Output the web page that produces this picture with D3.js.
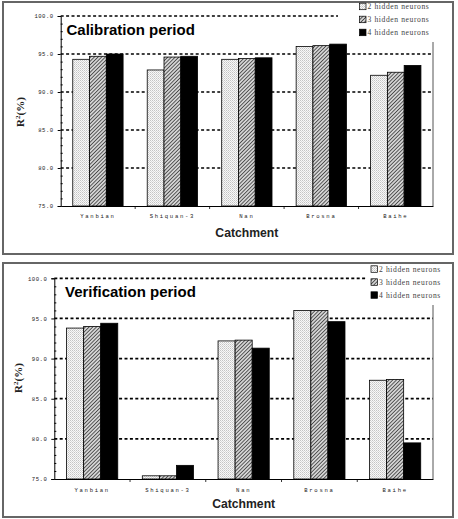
<!DOCTYPE html>
<html><head><meta charset="utf-8">
<script src="https://cdn.jsdelivr.net/npm/d3@7"></script>
<style>body{margin:0;background:#fff}svg{display:block}</style>
</head><body>
<svg id="c" width="458" height="519"></svg>
<script>
const categories = ["Yanbian", "Shiquan-3", "Nan", "Brosna", "Baihe"];
const seriesNames = ["2 hidden neurons", "3 hidden neurons", "4 hidden neurons"];
const calibration2 = [94.3, 92.9, 94.3, 96.0, 92.2];
const calibration3 = [94.7, 94.6, 94.4, 96.1, 92.6];
const calibration4 = [95.0, 94.7, 94.5, 96.3, 93.5];
const verification2 = [93.8, 75.4, 92.2, 96.0, 87.3];
const verification3 = [94.0, 75.4, 92.3, 96.0, 87.4];
const verification4 = [94.4, 76.7, 91.3, 94.6, 79.5];
const yTicks = [75, 80, 85, 90, 95, 100];
const yTickLabels = ["75.0", "80.0", "85.0", "90.0", "95.0", "100.0"];

const svg = d3.select("#c");
const defs = svg.append("defs");
const p1 = defs.append("pattern").attr("id","dots").attr("patternUnits","userSpaceOnUse").attr("width",2).attr("height",2);
p1.append("rect").attr("width",2).attr("height",2).attr("fill","#f8f8f8");
p1.append("rect").attr("width",1).attr("height",1).attr("fill","#c4c4c4");
p1.append("rect").attr("x",1).attr("y",1).attr("width",1).attr("height",1).attr("fill","#d8d8d8");
const p2 = defs.append("pattern").attr("id","hatch").attr("patternUnits","userSpaceOnUse").attr("width",2.6).attr("height",2.6).attr("patternTransform","rotate(45)");
p2.append("rect").attr("width",2.6).attr("height",2.6).attr("fill","#d4d4d4");
p2.append("line").attr("x1",0).attr("y1",0).attr("x2",0).attr("y2",2.6).attr("stroke","#333").attr("stroke-width",1.5);
const fills = ["url(#dots)", "url(#hatch)", "#000"];

function drawPanel(o) {
  const g = svg.append("g");
  g.append("rect").attr("x",o.frame[0]).attr("y",o.frame[1]).attr("width",o.frame[2]).attr("height",o.frame[3])
    .attr("fill","#fff").attr("stroke","#666").attr("stroke-width",2);
  const x = d3.scaleBand().domain(categories).range([o.left, o.right]).padding(0);
  const pad = x.bandwidth()*0.162;
  const xs = d3.scaleBand().domain(d3.range(3)).range([pad, x.bandwidth()-pad]).padding(0);
  const y = d3.scaleLinear().domain([75,100]).range([o.bottom, o.top]);
  // gridlines
  g.selectAll(".grid").data(yTicks.filter(v=>v>75)).join("line")
    .attr("x1",o.left).attr("x2",o.right).attr("y1",d=>y(d)).attr("y2",d=>y(d))
    .attr("stroke","#000").attr("stroke-width",1.7).attr("stroke-dasharray","3,2.4");
  // right axis line
  g.append("line").attr("x1",o.right).attr("x2",o.right).attr("y1",o.top).attr("y2",o.bottom).attr("stroke","#555").attr("stroke-width",1);
  // bars
  const vals = o.values;
  categories.forEach((c,i)=>{
    vals.forEach((arr,s)=>{
      g.append("rect").attr("x",x(c)+xs(s)).attr("width",xs.bandwidth())
        .attr("y",y(arr[i])).attr("height",y(75)-y(arr[i]))
        .attr("fill",fills[s]).attr("stroke","#000").attr("stroke-width",0.8);
    });
  });
  // left axis
  const yAxis = d3.axisLeft(y).tickValues(yTicks).tickSize(3).tickFormat((d,i)=>yTickLabels[i]);
  const ya = g.append("g").attr("transform",`translate(${o.left},0)`).call(yAxis);
  ya.select(".domain").attr("stroke","#000");
  ya.selectAll("text").attr("font-family","Liberation Mono, monospace").attr("font-size",5.6).attr("letter-spacing",0.5).attr("fill","#222").attr("x",-7);
  const yMinor = d3.axisRight(y).tickValues(d3.range(76,100).filter(v=>v%5)).tickSize(2).tickFormat("");
  const ym = g.append("g").attr("transform",`translate(${o.left},0)`).call(yMinor);
  ym.select(".domain").remove();
  // bottom axis
  const xa = g.append("g").attr("transform",`translate(0,${o.bottom})`).call(d3.axisBottom(x).tickSize(0).tickPadding(o.catPad));
  xa.select(".domain").attr("stroke","#000");
  xa.selectAll("text").attr("font-family","Liberation Mono, monospace").attr("font-size",5.6).attr("letter-spacing",1.7).attr("fill","#222");
  g.selectAll(".btick").data(categories.slice(1)).join("line")
    .attr("x1",d=>x(d)).attr("x2",d=>x(d)).attr("y1",o.bottom).attr("y2",o.bottom+3).attr("stroke","#000").attr("stroke-width",0.8);
  // legend box covering grid
  g.append("rect").attr("x",o.legBox[0]).attr("y",o.legBox[1]).attr("width",o.legBox[2]).attr("height",o.legBox[3]).attr("fill","#fff");
  seriesNames.forEach((n,s)=>{
    const ly = o.legY + s*13;
    g.append("rect").attr("x",o.legX).attr("y",ly-3.5).attr("width",6.5).attr("height",6.5)
      .attr("fill",fills[s]).attr("stroke","#000").attr("stroke-width",0.7);
    g.append("text").attr("x",o.legX+8).attr("y",ly+2.5).text(n)
      .attr("font-family","Liberation Serif, serif").attr("font-size",7.6).attr("letter-spacing",0.6).attr("fill","#444");
  });
  // title
  g.append("text").attr("x",o.titleX).attr("y",o.titleY).text(o.title)
    .attr("font-family","Liberation Sans, Arial, sans-serif").attr("font-weight","bold").attr("font-size",15).attr("fill","#000");
  g.append("text").attr("x",(o.left+o.right)/2).attr("y",o.xTitleY).attr("text-anchor","middle").text("Catchment")
    .attr("font-family","Liberation Sans, Arial, sans-serif").attr("font-weight","bold").attr("font-size",12.2).attr("fill","#222");
  const yt = g.append("text").attr("transform",`translate(${o.yTitleX},${o.yTitleY}) rotate(-90)`).attr("text-anchor","middle")
    .attr("font-family","Liberation Serif, serif").attr("font-weight","bold").attr("font-size",11).attr("fill","#222");
  yt.append("tspan").text("R");
  yt.append("tspan").text("2").attr("font-size",7).attr("dy",-4);
  yt.append("tspan").text("(%)").attr("dy",4);
}

drawPanel({frame:[3,2,450,252], left:60.7, right:433, top:16, bottom:206, catPad:8,
  values:[calibration2,calibration3,calibration4], legBox:[338,3,114,39], legX:359.5, legY:6.7,
  title:"Calibration period", titleX:66.5, titleY:35, xTitleY:237, yTitleX:24, yTitleY:112});
drawPanel({frame:[3,263,450,254], left:54.3, right:433, top:278.3, bottom:479, catPad:9,
  values:[verification2,verification3,verification4], legBox:[367,264,85,41], legX:371, legY:269.3,
  title:"Verification period", titleX:65, titleY:297, xTitleY:508, yTitleX:22, yTitleY:378});
</script>
</body></html>
